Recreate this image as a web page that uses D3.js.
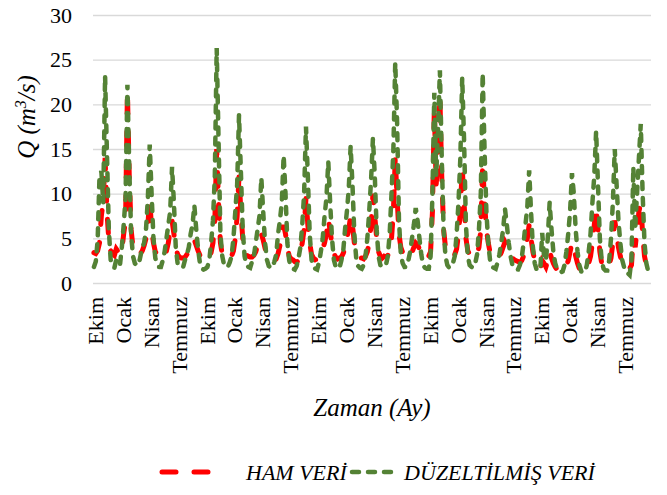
<!DOCTYPE html>
<html>
<head>
<meta charset="utf-8">
<script src="https://cdn.jsdelivr.net/npm/d3@7"></script>
<style>
  body { margin: 0; background: #fff; }
  svg text { font-family: 'Liberation Serif', 'DejaVu Serif', serif; }
</style>
</head>
<body>
<div id="chart"></div>
<script>
// monthly discharge, one row per water year (Ekim .. Eylül), 25 years
const hamVeri = [
  3.4, 3.3, 3.6, 4.5, 7.5, 9.2, 14.0, 8.0, 4.8, 3.6, 3.3, 3.1,
  3.8, 3.5, 3.2, 3.6, 5.5, 7.0, 21.5, 12.0, 6.0, 4.0, 3.6, 3.4,
  3.2, 3.3, 3.6, 4.2, 5.0, 6.5, 9.5, 6.0, 4.5, 3.5, 3.2, 3.0,
  3.0, 2.8, 2.9, 3.6, 4.5, 6.0, 7.0, 5.5, 4.0, 3.2, 2.9, 2.8,
  2.8, 2.9, 3.2, 3.5, 4.0, 4.5, 4.8, 4.2, 3.6, 3.1, 2.9, 2.8,
  2.6, 2.5, 2.9, 3.4, 4.5, 7.0, 15.0, 9.0, 4.5, 3.2, 2.9, 2.8,
  3.0, 2.9, 3.0, 3.6, 5.0, 7.5, 12.0, 8.0, 5.0, 3.5, 3.1, 3.0,
  2.9, 2.9, 3.1, 3.5, 4.2, 5.0, 5.5, 4.8, 3.9, 3.2, 3.0, 2.8,
  2.6, 2.5, 2.7, 3.3, 4.2, 5.5, 6.5, 5.5, 4.0, 3.0, 2.7, 2.6,
  2.4, 2.3, 2.6, 3.2, 4.5, 6.0, 9.5, 6.5, 4.5, 3.2, 2.8, 2.6,
  2.7, 2.8, 3.2, 3.8, 4.5, 5.5, 7.2, 5.8, 4.3, 3.3, 2.9, 2.7,
  2.8, 2.9, 3.3, 3.9, 5.0, 6.0, 7.5, 6.5, 4.5, 3.4, 3.0, 2.8,
  2.8, 2.7, 3.0, 3.5, 4.5, 6.5, 10.0, 7.5, 5.0, 3.5, 3.0, 2.8,
  3.0, 2.9, 3.1, 3.6, 5.0, 8.0, 14.0, 9.5, 5.5, 4.0, 3.4, 3.0,
  2.8, 2.9, 3.1, 3.4, 4.0, 4.5, 4.3, 3.8, 3.3, 3.0, 2.8, 2.7,
  3.0, 3.5, 8.0, 19.5, 11.0, 14.0, 21.0, 12.0, 6.0, 4.0, 3.5, 3.2,
  3.2, 3.0, 3.2, 3.8, 5.5, 8.0, 13.0, 9.0, 5.0, 3.6, 3.2, 3.0,
  3.0, 2.9, 3.2, 4.0, 6.0, 13.5, 9.0, 6.0, 4.5, 3.4, 3.0, 2.9,
  2.8, 2.8, 3.0, 3.4, 4.0, 4.6, 4.2, 3.6, 3.1, 2.8, 2.6, 2.5,
  2.4, 2.3, 2.5, 3.0, 4.0, 5.0, 6.5, 5.0, 3.5, 2.5, 2.0, 1.8,
  1.6, 2.5, 2.2, 1.8, 2.5, 3.5, 2.8, 2.2, 1.8, 1.5, 1.4, 1.3,
  1.4, 1.6, 2.0, 2.5, 3.5, 4.5, 4.0, 3.0, 2.2, 1.6, 1.4, 1.2,
  1.5, 1.8, 2.2, 3.0, 4.5, 6.5, 8.5, 6.0, 3.5, 2.2, 1.8, 1.6,
  1.8, 2.0, 2.8, 4.5, 7.0, 5.5, 4.0, 3.0, 2.2, 1.8, 1.6, 1.5,
  1.6, 2.0, 5.0, 4.0, 6.0, 8.0, 9.0, 5.5, 3.0, 2.0, 1.6, 1.4
];

const duzeltilmisVeri = [
  1.8, 2.4, 4.8, 12.0, 12.5, 9.0, 23.2, 14.5, 6.0, 2.6, 1.9, 1.7,
  2.6, 2.2, 2.0, 4.0, 6.5, 9.5, 22.2, 13.0, 5.5, 3.0, 2.2, 2.0,
  2.0, 3.0, 4.0, 4.5, 6.0, 9.5, 15.5, 10.0, 5.0, 2.8, 2.0, 1.8,
  1.8, 2.5, 3.5, 5.0, 6.5, 8.0, 13.0, 9.0, 4.0, 2.2, 1.8, 1.9,
  1.8, 2.6, 3.2, 4.0, 5.5, 6.5, 8.7, 6.0, 3.8, 2.2, 1.6, 1.5,
  1.6, 1.8, 2.5, 4.5, 7.0, 12.0, 26.3, 16.0, 5.5, 3.0, 2.0, 1.8,
  1.8, 2.3, 3.0, 5.0, 8.0, 11.0, 18.8, 12.5, 6.0, 3.0, 2.0, 1.8,
  1.7, 2.4, 3.0, 4.5, 6.0, 7.5, 11.8, 8.0, 4.5, 2.6, 1.9, 1.7,
  1.7, 2.4, 3.2, 5.5, 7.0, 9.0, 14.3, 10.0, 4.5, 2.5, 1.8, 1.6,
  1.5, 1.9, 2.8, 4.0, 6.5, 10.0, 17.5, 12.0, 5.5, 2.6, 1.8, 1.6,
  1.5, 2.3, 3.5, 5.0, 7.5, 9.5, 13.6, 9.0, 5.0, 2.6, 1.8, 1.6,
  1.7, 2.5, 3.5, 6.0, 8.0, 10.5, 15.3, 11.0, 5.5, 2.8, 1.9, 1.7,
  1.6, 2.0, 3.0, 5.0, 8.0, 11.5, 16.2, 12.0, 6.0, 3.0, 2.0, 1.8,
  1.8, 2.0, 3.0, 5.5, 10.0, 15.0, 24.7, 18.0, 7.0, 3.2, 2.2, 1.8,
  1.8, 2.5, 3.5, 5.0, 6.5, 8.4, 7.0, 5.0, 3.2, 2.0, 1.7, 1.6,
  1.6, 3.0, 10.0, 21.3, 12.0, 17.0, 23.8, 14.0, 6.0, 3.0, 2.0, 1.7,
  1.8, 2.2, 3.0, 5.5, 9.0, 14.0, 23.0, 16.0, 6.5, 3.0, 2.0, 1.8,
  1.7, 2.2, 3.2, 6.0, 10.0, 23.5, 15.0, 8.0, 4.5, 2.5, 1.8, 1.7,
  1.6, 2.3, 3.2, 4.5, 6.0, 8.3, 6.5, 4.5, 3.0, 2.0, 1.6, 1.5,
  1.5, 2.0, 2.8, 4.5, 6.5, 8.5, 12.6, 8.0, 4.0, 2.2, 1.5, 1.4,
  1.5, 5.6, 3.0, 2.5, 5.0, 9.0, 6.0, 3.5, 2.2, 1.6, 1.3, 1.2,
  1.3, 2.0, 3.5, 5.5, 8.0, 12.3, 10.0, 6.0, 3.5, 2.0, 1.3, 1.2,
  1.2, 2.0, 3.5, 5.5, 9.0, 12.0, 17.0, 11.0, 5.0, 2.5, 1.6, 1.4,
  1.4, 2.5, 5.0, 9.0, 15.0, 11.0, 7.0, 4.5, 2.6, 1.8, 1.2, 1.1,
  0.9, 2.5, 13.0, 6.0, 10.0, 14.0, 17.8, 10.0, 4.5, 2.2, 1.3, 1.2
];

// a label every 15 months
const tickLabels = [
  'Ekim', 'Ocak', 'Nisan', 'Temmuz',
  'Ekim', 'Ocak', 'Nisan', 'Temmuz',
  'Ekim', 'Ocak', 'Nisan', 'Temmuz',
  'Ekim', 'Ocak', 'Nisan', 'Temmuz',
  'Ekim', 'Ocak', 'Nisan', 'Temmuz'
];
const labelStep = 15;
const yTicks = [0, 5, 10, 15, 20, 25, 30];

const W = 667, H = 495;
const plot = { left: 93, right: 651, top: 15, bottom: 283 };

const svg = d3.select('#chart').append('svg')
  .attr('width', W).attr('height', H);

const x = d3.scaleLinear().domain([0, hamVeri.length]).range([plot.left, plot.right]);
const y = d3.scaleLinear().domain([0, 30]).range([plot.bottom, plot.top]);

// gridlines + y labels
const yAxis = d3.axisLeft(y).tickValues(yTicks).tickSize(-(plot.right - plot.left)).tickPadding(21);
const gy = svg.append('g').attr('transform', `translate(${plot.left},0)`).call(yAxis);
gy.attr('font-family', null).attr('font-size', null);
gy.select('.domain').remove();
gy.selectAll('line').attr('stroke', '#d9d9d9').attr('stroke-width', 1.3);
gy.selectAll('text').attr('font-size', 22).attr('fill', '#000');

// x labels (rotated)
const xAxis = d3.axisBottom(x)
  .tickValues(tickLabels.map((d, i) => i * labelStep + 0.5))
  .tickFormat((d, i) => tickLabels[i])
  .tickSize(0);
const gx = svg.append('g').attr('transform', `translate(0,${plot.bottom})`).call(xAxis);
gx.attr('font-family', null).attr('font-size', null);
gx.select('.domain').remove();
gx.selectAll('text')
  .attr('font-size', 22)
  .attr('fill', '#000')
  .attr('text-anchor', 'end')
  .attr('dominant-baseline', 'central')
  .attr('dy', null)
  .attr('y', 0)
  .attr('transform', 'translate(1,14) rotate(-90)');

const line = d3.line().x((d, i) => x(i + 0.5)).y(d => y(d));

svg.append('path').datum(hamVeri)
  .attr('d', line)
  .attr('fill', 'none')
  .attr('stroke', '#ff0000')
  .attr('stroke-width', 5)
  .attr('stroke-linecap', 'round')
  .attr('stroke-dasharray', '14 18');

svg.append('path').datum(duzeltilmisVeri)
  .attr('d', line)
  .attr('fill', 'none')
  .attr('stroke', '#548235')
  .attr('stroke-width', 4.5)
  .attr('stroke-linecap', 'round')
  .attr('stroke-dasharray', '7 9');

// axis titles
const yTitle = svg.append('text')
  .attr('transform', 'translate(35,117) rotate(-90)')
  .attr('text-anchor', 'middle')
  .attr('font-size', 25)
  .attr('font-style', 'italic');
yTitle.append('tspan').text('Q (m');
yTitle.append('tspan').text('3').attr('font-size', 16).attr('dy', -9);
yTitle.append('tspan').text('/s)').attr('dy', 9);

svg.append('text')
  .attr('x', 372).attr('y', 416)
  .attr('text-anchor', 'middle')
  .attr('font-size', 25)
  .attr('font-style', 'italic')
  .text('Zaman (Ay)');

// legend
const legend = [
  { name: 'HAM VERİ', color: '#ff0000', width: 5, dash: '14 18', x: 160, tx: 86 },
  { name: 'DÜZELTİLMİŞ VERİ', color: '#548235', width: 4.5, dash: '7 9', x: 350, tx: 54 }
];
const lg = svg.append('g').selectAll('g').data(legend).enter().append('g')
  .attr('transform', d => `translate(${d.x},472)`);
lg.append('line')
  .attr('x1', 2).attr('x2', 50).attr('y1', 0).attr('y2', 0)
  .attr('stroke', d => d.color)
  .attr('stroke-width', d => d.width)
  .attr('stroke-linecap', 'round')
  .attr('stroke-dasharray', d => d.dash);
lg.append('text')
  .attr('x', d => d.tx).attr('y', 8)
  .attr('font-size', 22)
  .attr('font-style', 'italic')
  .text(d => d.name);
</script>
</body>
</html>
